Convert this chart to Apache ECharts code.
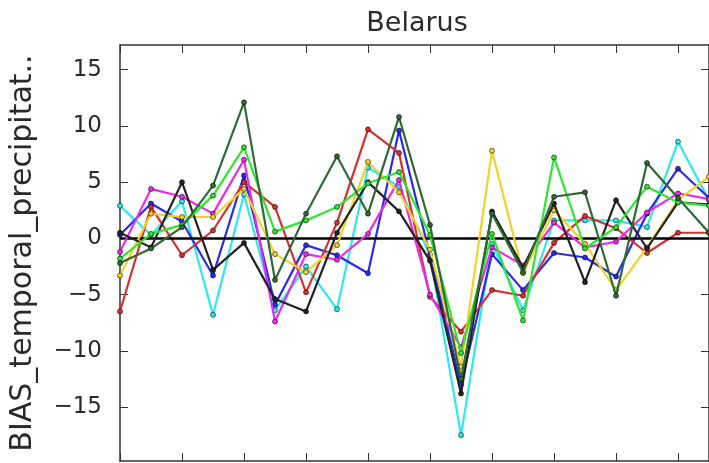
<!DOCTYPE html>
<html>
<head>
<meta charset="utf-8">
<script src="https://cdn.jsdelivr.net/npm/echarts@6/dist/echarts.min.js"></script>
<style>
  html, body { margin: 0; padding: 0; background: #fff; }
  #chart { width: 709px; height: 463px; }
</style>
</head>
<body>
<div id="chart"></div>
<script>
// Step index along the x axis (one point per step)
const steps = [0, 1, 2, 3, 4, 5, 6, 7, 8, 9, 10, 11, 12, 13, 14, 15, 16, 17, 18, 19];

// Bias values per member
const redVals     = [-6.5, 2.8, -1.5, 0.7, 5.0, 2.8, -4.8, 1.4, 9.7, 7.6, -5.2, -8.3, -4.6, -5.1, -0.4, 2.0, 0.9, -1.3, 0.5, 0.5];
const blueVals    = [0.3, 3.1, 1.5, -3.3, 5.6, -5.9, -0.6, -1.5, -3.1, 9.6, -1.5, -13.0, -1.4, -4.6, -1.3, -1.7, -3.4, 2.2, 6.2, 3.6];
const cyanVals    = [2.9, 0.3, 3.3, -6.8, 3.9, -6.4, -2.5, -6.3, 6.3, 4.6, -1.5, -17.5, -0.5, -6.4, 1.6, 1.6, 1.6, 1.0, 8.6, 3.4];
const magentaVals = [-1.2, 4.4, 3.7, 2.2, 7.0, -7.4, -1.4, -1.9, 0.4, 5.2, -5.0, -9.7, -0.8, -2.4, 1.4, -0.8, -0.3, 2.3, 4.0, 3.5];
const yellowVals  = [-3.3, 2.2, 1.9, 1.9, 4.4, -1.4, -3.0, -0.6, 6.8, 4.1, -1.0, -11.4, 7.8, -3.1, 2.5, -0.5, -4.6, -0.8, 3.4, 5.5];
const blackVals   = [0.5, -0.8, 5.0, -2.8, -0.4, -5.4, -6.5, 0.5, 5.0, 2.4, -2.0, -13.8, 2.4, -2.6, 3.1, -3.9, 3.4, -0.9, 3.2, 3.0];
const greenVals   = [-1.8, 0.4, 1.2, 3.8, 8.1, 0.6, 1.6, 2.8, 4.9, 5.9, 0.3, -10.2, 0.4, -7.3, 7.2, -0.9, 1.0, 4.6, 3.2, 2.9];
const dkgreenVals = [-2.2, -0.9, 1.0, 4.7, 12.1, -3.7, 2.2, 7.3, 2.2, 10.8, 1.2, -12.5, 2.2, -3.0, 3.7, 4.1, -5.1, 6.7, 3.6, 0.5];

// Y tick labels
const yTicks = [-15, -10, -5, 0, 5, 10, 15];

const members = [
  { name: 'cyan',      color: '#2ee8ee', values: cyanVals },
  { name: 'blue',      color: '#2a2aee', values: blueVals },
  { name: 'red',       color: '#d83030', values: redVals },
  { name: 'magenta',   color: '#ea2aea', values: magentaVals },
  { name: 'yellow',    color: '#f5d028', values: yellowVals },
  { name: 'black',     color: '#222222', values: blackVals },
  { name: 'green',     color: '#2ee62e', values: greenVals },
  { name: 'darkgreen', color: '#2f6a35', values: dkgreenVals }
];

const axisColor = '#333';
const textColor = '#2a2a2a';
const fontFamily = 'DejaVu Sans';

const series = members.map((m, k) => ({
  name: m.name,
  type: 'line',
  data: steps.map((s, i) => [s, m.values[i]]),
  symbol: 'circle',
  symbolSize: 5,
  showSymbol: true,
  lineStyle: { color: m.color, width: 2.2 },
  itemStyle: { color: m.color, borderColor: 'rgba(0,0,0,0.55)', borderWidth: 1 },
  z: 2 + k,
  animation: false
}));

// Zero reference line
series.push({
  name: 'zero',
  type: 'line',
  data: [],
  z: 20,
  markLine: {
    silent: true,
    symbol: 'none',
    animation: false,
    label: { show: false },
    lineStyle: { color: '#000', width: 2.5, type: 'solid' },
    data: [{ yAxis: 0 }]
  }
});

const xAxisBase = {
  type: 'value',
  min: 0,
  max: 19,
  interval: 2,
  axisLine: { show: true, onZero: false, lineStyle: { color: axisColor, width: 1.5 } },
  axisTick: { show: true, inside: true, length: 8, lineStyle: { color: axisColor, width: 1 } },
  axisLabel: { show: false },
  splitLine: { show: false }
};

const yAxisBase = {
  type: 'value',
  min: -19.8,
  max: 17.2,
  axisLine: { show: true, onZero: false, lineStyle: { color: axisColor, width: 1.5 } },
  axisTick: { show: true, inside: true, length: 8, customValues: yTicks, lineStyle: { color: axisColor, width: 1 } },
  splitLine: { show: false }
};

const chart = echarts.init(document.getElementById('chart'), null, { renderer: 'canvas' });
chart.setOption({
  animation: false,
  backgroundColor: '#fff',
  title: {
    text: 'Belarus',
    left: 412,
    top: 5,
    textAlign: 'center',
    textStyle: { fontFamily: fontFamily, fontSize: 27, fontWeight: 'normal', color: textColor }
  },
  grid: { left: 117.5, top: 45, width: 593.75, height: 416, containLabel: false },
  xAxis: [
    Object.assign({}, xAxisBase, { position: 'bottom' }),
    Object.assign({}, xAxisBase, { position: 'top' })
  ],
  yAxis: [
    Object.assign({}, yAxisBase, {
      position: 'left',
      name: 'BIAS_temporal_precipitat..',
      nameLocation: 'middle',
      nameGap: 82,
      nameTextStyle: { fontFamily: fontFamily, fontSize: 30, color: textColor },
      axisLabel: {
        show: true,
        customValues: yTicks,
        margin: 18,
        fontFamily: fontFamily,
        fontSize: 23,
        color: textColor,
        formatter: v => String(v).replace('-', '\u2212')
      }
    }),
    Object.assign({}, yAxisBase, { position: 'right', axisLabel: { show: false } })
  ],
  series: series
});
</script>
</body>
</html>
